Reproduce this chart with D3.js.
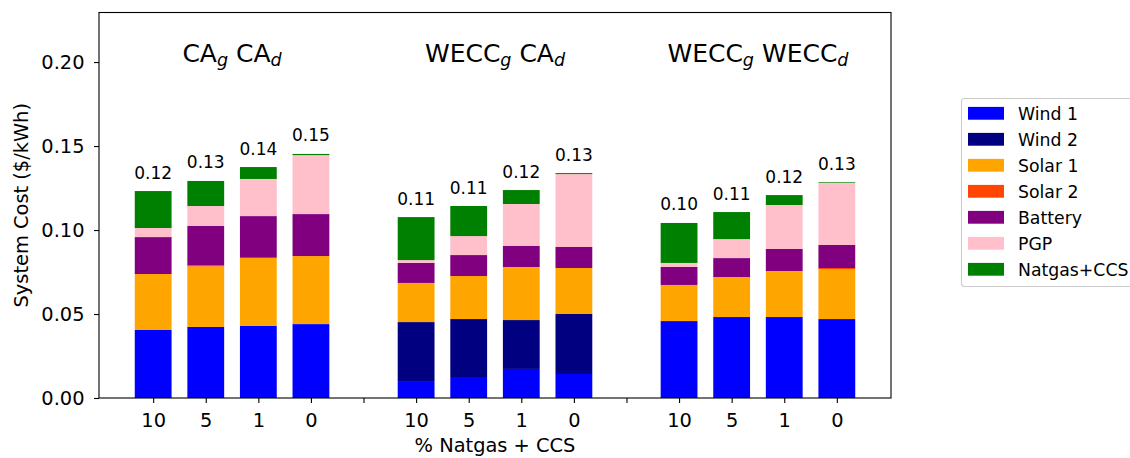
<!DOCTYPE html>
<html>
<head>
<meta charset="utf-8">
<script src="https://cdn.jsdelivr.net/npm/d3@7"></script>
<style>
  body { margin: 0; background: #fff; }
  text { font-family: "DejaVu Sans", sans-serif; fill: #000; }
</style>
</head>
<body>
<svg id="chart" width="1130" height="458"></svg>
<script>
// Scenario groups: [generation region, subscript, demand region, subscript]
const regions = [
  ["CA", "g", "CA", "d"],
  ["WECC", "g", "CA", "d"],
  ["WECC", "g", "WECC", "d"]
];
// Natgas + CCS share within each group
const natgasShares = ["10", "5", "1", "0"];

const techNames = ["Wind 1", "Wind 2", "Solar 1", "Solar 2", "Battery", "PGP", "Natgas+CCS"];
const techColors = ["#0000ff", "#000080", "#ffa500", "#ff4500", "#800080", "#ffc0cb", "#008000"];

// Cost contribution ($/kWh) of each technology, 12 bars (3 groups x 4 shares)
const wind1  = [0.0405, 0.0423, 0.0429, 0.0440,  0.0101, 0.0125, 0.0173, 0.0143,  0.0458, 0.0482, 0.0482, 0.0470];
const wind2  = [0,      0,      0,      0,       0.0351, 0.0345, 0.0291, 0.0357,  0,      0,      0,      0     ];
const solar1 = [0.0333, 0.0360, 0.0406, 0.0405,  0.0233, 0.0256, 0.0316, 0.0274,  0.0215, 0.0238, 0.0274, 0.0298];
const solar2 = [0,      0.0006, 0,      0,       0,      0,      0,      0,       0,      0,      0,      0.0006];
const battery= [0.0220, 0.0235, 0.0248, 0.0250,  0.0119, 0.0125, 0.0125, 0.0125,  0.0107, 0.0113, 0.0131, 0.0137];
const pgp    = [0.0054, 0.0119, 0.0221, 0.0351,  0.0017, 0.0113, 0.0250, 0.0434,  0.0024, 0.0113, 0.0262, 0.0369];
const natgas = [0.0220, 0.0149, 0.0071, 0.0007,  0.0256, 0.0179, 0.0083, 0.0006,  0.0238, 0.0161, 0.0059, 0.0004];

const yTicks = [0, 0.05, 0.10, 0.15, 0.20];

const series = [wind1, wind2, solar1, solar2, battery, pgp, natgas];

// ---- layout ----
const svg = d3.select("#chart");
const plot = { left: 99, right: 891, top: 12.5, bottom: 398 };

// bar slots: 4 per group, one empty slot between groups
const slotOf = i => Math.floor(i / 4) * 5 + (i % 4);
const x = d3.scaleLinear().domain([-1.03, 14.03]).range([plot.left, plot.right]);
const y = d3.scaleLinear().domain([0, 0.2295]).range([plot.bottom, plot.top]);
const barW = (x(0.7) - x(0));

// stacked bars
const nBars = wind1.length;
const bars = d3.range(nBars).map(i => {
  let base = 0;
  const segs = series.map((s, k) => {
    const seg = { k, y0: base, y1: base + s[i] };
    base += s[i];
    return seg;
  });
  return { i, slot: slotOf(i), segs, total: base };
});

const gBars = svg.append("g");
bars.forEach(b => {
  gBars.selectAll(null)
    .data(b.segs.filter(s => s.y1 > s.y0))
    .enter().append("rect")
    .attr("x", x(b.slot) - barW / 2)
    .attr("width", barW)
    .attr("y", s => y(s.y1))
    .attr("height", s => y(s.y0) - y(s.y1))
    .attr("fill", s => techColors[s.k]);
});

// total labels
svg.append("g").selectAll("text")
  .data(bars).enter().append("text")
  .attr("x", b => x(b.slot))
  .attr("y", b => y(b.total) - 12.5)
  .attr("text-anchor", "middle")
  .style("font-size", "17px")
  .text(b => d3.format(".2f")(b.total));

// axes
const yAxis = d3.axisLeft(y).tickValues(yTicks).tickFormat(d3.format(".2f"))
  .tickSize(5).tickPadding(9.5);
const gy = svg.append("g").attr("transform", `translate(${plot.left},0)`).call(yAxis);
gy.select(".domain").remove();
gy.selectAll("text").style("font-size", "19.4px").style("font-family", "DejaVu Sans");
gy.selectAll("line").attr("stroke", "#000").attr("stroke-width", 1.1);

const slots = d3.range(14);
const xAxis = d3.axisBottom(x).tickValues(slots)
  .tickFormat(s => (s % 5 === 4) ? "" : natgasShares[s % 5])
  .tickSize(5).tickPadding(10);
const gx = svg.append("g").attr("transform", `translate(0,${plot.bottom})`).call(xAxis);
gx.select(".domain").remove();
gx.selectAll("text").style("font-size", "19.4px").style("font-family", "DejaVu Sans");
gx.selectAll("line").attr("stroke", "#000").attr("stroke-width", 1.1);

// frame
svg.append("rect")
  .attr("x", plot.left).attr("y", plot.top)
  .attr("width", plot.right - plot.left).attr("height", plot.bottom - plot.top)
  .attr("fill", "none").attr("stroke", "#000").attr("stroke-width", 1.1);

// group titles with subscripts
regions.forEach((r, g) => {
  const t = svg.append("text")
    .attr("x", x(g * 5 + 1.5)).attr("y", 62)
    .attr("text-anchor", "middle")
    .style("font-size", "25px");
  t.append("tspan").text(r[0]);
  t.append("tspan").attr("dy", 4).style("font-size", "17.5px").style("font-style", "italic").text(r[1]);
  t.append("tspan").attr("dy", -4).text(" " + r[2]);
  t.append("tspan").attr("dy", 4).style("font-size", "17.5px").style("font-style", "italic").text(r[3]);
});

// axis labels
svg.append("text")
  .attr("transform", `translate(28,${(plot.top + plot.bottom) / 2}) rotate(-90)`)
  .attr("text-anchor", "middle")
  .style("font-size", "19.4px")
  .text("System Cost ($/kWh)");

svg.append("text")
  .attr("x", (plot.left + plot.right) / 2).attr("y", 452)
  .attr("text-anchor", "middle")
  .style("font-size", "19.4px")
  .text("% Natgas + CCS");

// legend
const leg = svg.append("g");
leg.append("rect")
  .attr("x", 961.5).attr("y", 98.5).attr("width", 172).attr("height", 188)
  .attr("rx", 3)
  .attr("fill", "#fff").attr("fill-opacity", 0.8)
  .attr("stroke", "#cccccc").attr("stroke-width", 1.1);
techNames.forEach((name, k) => {
  const cy = 113.3 + k * 26;
  leg.append("rect")
    .attr("x", 968).attr("y", cy - 6.4).attr("width", 36).attr("height", 12.8)
    .attr("fill", techColors[k]);
  leg.append("text")
    .attr("x", 1018).attr("y", cy + 6.2)
    .style("font-size", "17.3px")
    .text(name);
});
</script>
</body>
</html>
